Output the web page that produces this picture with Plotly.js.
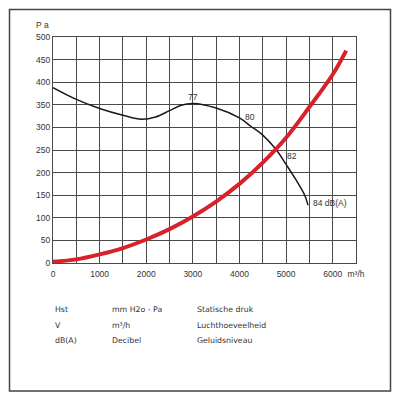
<!DOCTYPE html>
<html><head><meta charset="utf-8">
<script src="https://cdn.plot.ly/plotly-3.0.1.min.js"></script>
<style>body{margin:0;background:#fff}#c{width:400px;height:393px}</style>
</head><body><div id="c"></div>
<script>
// Fan curve (static pressure, Pa) vs airflow (m³/h)
const fanFlow = [0, 500, 1000, 1500, 1900, 2200, 2500, 2750, 3000, 3500, 4000, 4250, 4500, 4786, 5000, 5200, 5400, 5470];
const fanPressure = [388, 362, 342, 327, 318, 323, 337, 349, 353, 343, 321, 302, 283, 251, 218, 186, 150, 128];
// System curve
const sysFlow = [0, 500, 1000, 1500, 2000, 2500, 3000, 3500, 4000, 4500, 5000, 5500, 6000, 6290];
const sysPressure = [3, 8, 19, 33, 52, 75, 103, 136, 175, 222, 277, 345, 417, 470];
// Sound level labels
const dbLabels = ['77', '80', '82', '84 dB(A)'];
const dbFlow = [2993, 4230, 5136, 5543];
const dbPressure = [368, 323, 236, 133];
// Axis ticks
const xTickVals = [0,500,1000,1500,2000,2500,3000,3500,4000,4500,5000,5500,6000,6500];
const xTickText = ['0','','1000','','2000','','3000','','4000','','5000','','6000','m³/h'];
const yTickVals = [0,50,100,150,200,250,300,350,400,450,500];
// Legend table
const tblCol1 = ['Hst', 'V', 'dB(A)'];
const tblCol2 = ['mm H2o - Pa', 'm³/h', 'Decibel'];
const tblCol3 = ['Statische druk', 'Luchthoeveelheid', 'Geluidsniveau'];

const traces = [
  {x: fanFlow, y: fanPressure, mode: 'lines', line: {color: '#1a1a1a', width: 1.5, shape: 'spline'}, hoverinfo: 'skip'},
  {x: sysFlow, y: sysPressure, mode: 'lines', line: {color: '#d9212b', width: 4, shape: 'spline'}, hoverinfo: 'skip'}
];

const ann = [];
dbLabels.forEach((t, i) => ann.push({x: dbFlow[i], y: dbPressure[i], text: t, showarrow: false,
  xanchor: i === 3 ? 'left' : 'center', font: {family: 'Liberation Sans, Arial', size: 8.5, color: '#333'}}));
const colX = [53, 110, 195];
const rowY = [309, 325, 341];
const toPx = (px) => (px - 53) / 303;
const toPy = (py) => (263 - py) / 226;
ann.push({xref: 'paper', yref: 'paper', x: toPx(42.5), y: toPy(25), text: 'P a', showarrow: false,
  xanchor: 'center', yanchor: 'middle', font: {family: 'Liberation Sans, Arial', size: 8.5, color: '#333'}});
[tblCol1, tblCol2, tblCol3].forEach((col, c) => col.forEach((t, r) => ann.push({
  xref: 'paper', yref: 'paper', x: toPx(colX[c]), y: toPy(rowY[r]), text: t, showarrow: false,
  xanchor: 'left', yanchor: 'middle', font: {family: 'DejaVu Sans, Verdana', size: 7.8, color: '#333'}})));

const axisCommon = {showgrid: true, gridcolor: '#4a4a4a', gridwidth: 1,
  zeroline: false, showline: true, linecolor: '#4a4a4a', linewidth: 1, mirror: true, ticks: '',
  tickfont: {family: 'Liberation Sans, Arial', size: 8.5, color: '#333'}, fixedrange: true};

const layout = {
  width: 400, height: 393,
  margin: {l: 53, r: 44, t: 37, b: 130},
  paper_bgcolor: '#fff', plot_bgcolor: '#fff',
  showlegend: false,
  xaxis: Object.assign({range: [0, 6500], tickvals: xTickVals, ticktext: xTickText, ticklabelstandoff: 3}, axisCommon),
  yaxis: Object.assign({range: [0, 500], tickvals: yTickVals}, axisCommon),
  shapes: [{type: 'rect', xref: 'paper', yref: 'paper', x0: toPx(9.5), x1: toPx(390.5), y0: toPy(391), y1: toPy(9.5),
    line: {color: '#444', width: 1.5}, layer: 'below'}],
  annotations: ann
};
Plotly.newPlot('c', traces, layout, {displayModeBar: false, staticPlot: true});
</script></body></html>
